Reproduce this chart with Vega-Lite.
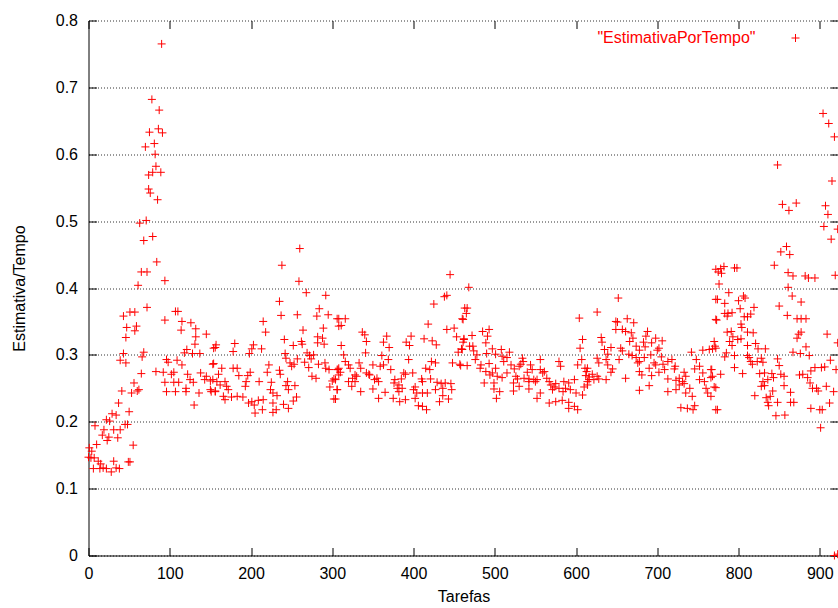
{
"$schema": "https://vega.github.io/schema/vega-lite/v6.json",
"width": 750, "height": 535,
"autosize": {"type": "none"},
"padding": {"left": 88.5, "top": 20.5, "right": 0, "bottom": 52.5},
"background": "white",
"config": {
 "view": {"stroke": null},
 "axis": {"labelFont": "Liberation Sans", "labelFontSize": 16, "labelColor": "#000", "titleFont": "Liberation Sans", "titleFontSize": 16, "titleFontWeight": "normal", "titleColor": "#000", "domainColor": "#000", "tickColor": "#000", "tickSize": -8, "labelFlush": false, "labelOverlap": false, "domainWidth": 1, "tickWidth": 1}
},
"data": {"values": [
{"x":90,"y":0.765},{"x":78,"y":0.682},{"x":87,"y":0.666},{"x":75,"y":0.633},{"x":86,"y":0.638},{"x":91,"y":0.632},{"x":70,"y":0.611},{"x":81,"y":0.616},{"x":82,"y":0.600},{"x":83,"y":0.582},{"x":74,"y":0.569},{"x":79,"y":0.573},{"x":89,"y":0.573},{"x":74,"y":0.548},{"x":76,"y":0.542},{"x":85,"y":0.532},{"x":63,"y":0.497},{"x":71,"y":0.501},{"x":79,"y":0.477},{"x":68,"y":0.471},{"x":84,"y":0.439},{"x":65,"y":0.424},{"x":72,"y":0.424},{"x":61,"y":0.404},{"x":94,"y":0.411},{"x":72,"y":0.371},{"x":43,"y":0.358},{"x":51,"y":0.364},{"x":57,"y":0.364},{"x":107,"y":0.365},{"x":110,"y":0.365},{"x":94,"y":0.352},{"x":115,"y":0.35},{"x":126,"y":0.348},{"x":47,"y":0.341},{"x":59,"y":0.343},{"x":57,"y":0.336},{"x":114,"y":0.337},{"x":132,"y":0.339},{"x":145,"y":0.331},{"x":46,"y":0.326},{"x":132,"y":0.327},{"x":131,"y":0.316},{"x":156,"y":0.311},{"x":121,"y":0.308},{"x":68,"y":0.304},{"x":43,"y":0.302},{"x":66,"y":0.297},{"x":118,"y":0.303},{"x":128,"y":0.302},{"x":137,"y":0.302},{"x":39,"y":0.292},{"x":46,"y":0.288},{"x":96,"y":0.293},{"x":98,"y":0.289},{"x":109,"y":0.292},{"x":115,"y":0.285},{"x":154,"y":0.287},{"x":65,"y":0.272},{"x":83,"y":0.275},{"x":92,"y":0.274},{"x":102,"y":0.271},{"x":105,"y":0.274},{"x":122,"y":0.271},{"x":138,"y":0.273},{"x":145,"y":0.268},{"x":94,"y":0.259},{"x":105,"y":0.259},{"x":111,"y":0.259},{"x":125,"y":0.263},{"x":129,"y":0.259},{"x":143,"y":0.263},{"x":150,"y":0.261},{"x":56,"y":0.258},{"x":41,"y":0.246},{"x":53,"y":0.243},{"x":60,"y":0.246},{"x":62,"y":0.248},{"x":96,"y":0.245},{"x":107,"y":0.245},{"x":120,"y":0.25},{"x":136,"y":0.243},{"x":151,"y":0.245},{"x":156,"y":0.246},{"x":120,"y":0.245},{"x":130,"y":0.225},{"x":37,"y":0.228},{"x":50,"y":0.215},{"x":29,"y":0.212},{"x":34,"y":0.21},{"x":22,"y":0.203},{"x":26,"y":0.201},{"x":45,"y":0.196},{"x":48,"y":0.196},{"x":8,"y":0.194},{"x":19,"y":0.188},{"x":31,"y":0.188},{"x":39,"y":0.188},{"x":17,"y":0.18},{"x":25,"y":0.177},{"x":36,"y":0.176},{"x":23,"y":0.172},{"x":10,"y":0.166},{"x":55,"y":0.165},{"x":1,"y":0.161},{"x":4,"y":0.156},{"x":0,"y":0.147},{"x":3,"y":0.146},{"x":7,"y":0.146},{"x":12,"y":0.141},{"x":15,"y":0.137},{"x":14,"y":0.13},{"x":6,"y":0.13},{"x":18,"y":0.131},{"x":22,"y":0.13},{"x":28,"y":0.125},{"x":31,"y":0.141},{"x":34,"y":0.131},{"x":38,"y":0.13},{"x":49,"y":0.14},{"x":51,"y":0.14},
{"x":260,"y":0.459},{"x":238,"y":0.434},{"x":259,"y":0.41},{"x":268,"y":0.393},{"x":292,"y":0.389},{"x":235,"y":0.38},{"x":284,"y":0.369},{"x":237,"y":0.359},{"x":257,"y":0.36},{"x":281,"y":0.358},{"x":295,"y":0.36},{"x":306,"y":0.354},{"x":308,"y":0.343},{"x":215,"y":0.35},{"x":218,"y":0.334},{"x":264,"y":0.337},{"x":289,"y":0.34},{"x":241,"y":0.323},{"x":262,"y":0.32},{"x":282,"y":0.327},{"x":288,"y":0.325},{"x":263,"y":0.316},{"x":252,"y":0.314},{"x":282,"y":0.318},{"x":290,"y":0.316},{"x":157,"y":0.315},{"x":154,"y":0.31},{"x":180,"y":0.317},{"x":203,"y":0.315},{"x":201,"y":0.309},{"x":213,"y":0.309},{"x":178,"y":0.305},{"x":198,"y":0.302},{"x":242,"y":0.302},{"x":269,"y":0.303},{"x":272,"y":0.299},{"x":277,"y":0.3},{"x":243,"y":0.295},{"x":257,"y":0.294},{"x":274,"y":0.294},{"x":248,"y":0.288},{"x":253,"y":0.286},{"x":266,"y":0.289},{"x":283,"y":0.286},{"x":291,"y":0.288},{"x":153,"y":0.286},{"x":222,"y":0.285},{"x":250,"y":0.283},{"x":271,"y":0.281},{"x":164,"y":0.28},{"x":178,"y":0.28},{"x":183,"y":0.28},{"x":160,"y":0.271},{"x":199,"y":0.274},{"x":220,"y":0.274},{"x":235,"y":0.277},{"x":292,"y":0.28},{"x":296,"y":0.278},{"x":307,"y":0.278},{"x":196,"y":0.269},{"x":185,"y":0.269},{"x":236,"y":0.271},{"x":275,"y":0.268},{"x":280,"y":0.265},{"x":308,"y":0.27},{"x":153,"y":0.263},{"x":158,"y":0.26},{"x":168,"y":0.26},{"x":194,"y":0.26},{"x":210,"y":0.26},{"x":225,"y":0.259},{"x":245,"y":0.26},{"x":302,"y":0.264},{"x":300,"y":0.261},{"x":162,"y":0.255},{"x":170,"y":0.253},{"x":193,"y":0.253},{"x":243,"y":0.254},{"x":254,"y":0.254},{"x":150,"y":0.248},{"x":156,"y":0.245},{"x":172,"y":0.248},{"x":224,"y":0.248},{"x":227,"y":0.243},{"x":232,"y":0.239},{"x":246,"y":0.248},{"x":297,"y":0.252},{"x":306,"y":0.248},{"x":166,"y":0.238},{"x":176,"y":0.237},{"x":183,"y":0.238},{"x":190,"y":0.237},{"x":168,"y":0.233},{"x":201,"y":0.23},{"x":209,"y":0.232},{"x":215,"y":0.233},{"x":204,"y":0.225},{"x":256,"y":0.237},{"x":252,"y":0.231},{"x":302,"y":0.234},{"x":240,"y":0.226},{"x":246,"y":0.22},{"x":227,"y":0.228},{"x":214,"y":0.218},{"x":205,"y":0.213},{"x":227,"y":0.214},{"x":231,"y":0.218},{"x":197,"y":0.228},
{"x":445,"y":0.42},{"x":441,"y":0.389},{"x":438,"y":0.387},{"x":425,"y":0.376},{"x":463,"y":0.37},{"x":460,"y":0.354},{"x":308,"y":0.354},{"x":316,"y":0.354},{"x":311,"y":0.344},{"x":418,"y":0.346},{"x":450,"y":0.34},{"x":441,"y":0.338},{"x":337,"y":0.334},{"x":340,"y":0.33},{"x":367,"y":0.328},{"x":397,"y":0.328},{"x":413,"y":0.324},{"x":453,"y":0.327},{"x":462,"y":0.324},{"x":342,"y":0.32},{"x":363,"y":0.319},{"x":391,"y":0.319},{"x":395,"y":0.314},{"x":423,"y":0.321},{"x":428,"y":0.315},{"x":311,"y":0.314},{"x":370,"y":0.311},{"x":459,"y":0.309},{"x":461,"y":0.319},{"x":455,"y":0.304},{"x":341,"y":0.303},{"x":314,"y":0.3},{"x":361,"y":0.299},{"x":369,"y":0.293},{"x":394,"y":0.293},{"x":422,"y":0.29},{"x":427,"y":0.288},{"x":448,"y":0.288},{"x":457,"y":0.286},{"x":316,"y":0.29},{"x":308,"y":0.28},{"x":320,"y":0.285},{"x":333,"y":0.288},{"x":350,"y":0.285},{"x":363,"y":0.285},{"x":359,"y":0.283},{"x":415,"y":0.28},{"x":420,"y":0.278},{"x":322,"y":0.28},{"x":335,"y":0.28},{"x":372,"y":0.278},{"x":306,"y":0.278},{"x":310,"y":0.274},{"x":328,"y":0.27},{"x":342,"y":0.273},{"x":346,"y":0.27},{"x":355,"y":0.265},{"x":388,"y":0.273},{"x":399,"y":0.273},{"x":325,"y":0.265},{"x":330,"y":0.268},{"x":345,"y":0.271},{"x":352,"y":0.263},{"x":357,"y":0.26},{"x":377,"y":0.263},{"x":385,"y":0.264},{"x":390,"y":0.271},{"x":410,"y":0.264},{"x":421,"y":0.264},{"x":429,"y":0.259},{"x":434,"y":0.257},{"x":439,"y":0.258},{"x":446,"y":0.257},{"x":304,"y":0.263},{"x":320,"y":0.26},{"x":328,"y":0.26},{"x":376,"y":0.258},{"x":382,"y":0.255},{"x":411,"y":0.26},{"x":306,"y":0.248},{"x":324,"y":0.253},{"x":350,"y":0.249},{"x":380,"y":0.25},{"x":386,"y":0.25},{"x":400,"y":0.248},{"x":402,"y":0.252},{"x":427,"y":0.248},{"x":436,"y":0.25},{"x":447,"y":0.248},{"x":335,"y":0.245},{"x":365,"y":0.244},{"x":382,"y":0.245},{"x":404,"y":0.243},{"x":411,"y":0.243},{"x":417,"y":0.243},{"x":357,"y":0.235},{"x":375,"y":0.235},{"x":390,"y":0.233},{"x":402,"y":0.235},{"x":436,"y":0.239},{"x":443,"y":0.234},{"x":383,"y":0.23},{"x":432,"y":0.23},{"x":406,"y":0.224},{"x":411,"y":0.223},{"x":416,"y":0.218},{"x":304,"y":0.234},
{"x":468,"y":0.401},{"x":466,"y":0.37},{"x":465,"y":0.362},{"x":461,"y":0.353},{"x":485,"y":0.335},{"x":493,"y":0.338},{"x":491,"y":0.328},{"x":472,"y":0.329},{"x":462,"y":0.323},{"x":489,"y":0.318},{"x":469,"y":0.313},{"x":473,"y":0.313},{"x":497,"y":0.309},{"x":460,"y":0.308},{"x":474,"y":0.306},{"x":508,"y":0.308},{"x":518,"y":0.304},{"x":490,"y":0.302},{"x":501,"y":0.301},{"x":478,"y":0.3},{"x":509,"y":0.298},{"x":515,"y":0.296},{"x":534,"y":0.295},{"x":535,"y":0.29},{"x":556,"y":0.293},{"x":579,"y":0.29},{"x":604,"y":0.355},{"x":608,"y":0.323},{"x":605,"y":0.31},{"x":607,"y":0.293},{"x":602,"y":0.285},{"x":476,"y":0.293},{"x":511,"y":0.29},{"x":532,"y":0.286},{"x":483,"y":0.285},{"x":493,"y":0.287},{"x":520,"y":0.285},{"x":544,"y":0.285},{"x":458,"y":0.284},{"x":466,"y":0.284},{"x":482,"y":0.28},{"x":501,"y":0.28},{"x":524,"y":0.279},{"x":530,"y":0.283},{"x":546,"y":0.278},{"x":556,"y":0.278},{"x":561,"y":0.275},{"x":581,"y":0.283},{"x":611,"y":0.28},{"x":613,"y":0.275},{"x":489,"y":0.275},{"x":497,"y":0.273},{"x":515,"y":0.273},{"x":540,"y":0.274},{"x":559,"y":0.273},{"x":494,"y":0.27},{"x":503,"y":0.268},{"x":509,"y":0.266},{"x":526,"y":0.268},{"x":528,"y":0.264},{"x":536,"y":0.265},{"x":542,"y":0.264},{"x":548,"y":0.263},{"x":552,"y":0.263},{"x":564,"y":0.265},{"x":567,"y":0.26},{"x":598,"y":0.263},{"x":616,"y":0.263},{"x":499,"y":0.258},{"x":523,"y":0.258},{"x":542,"y":0.26},{"x":550,"y":0.26},{"x":569,"y":0.255},{"x":575,"y":0.257},{"x":585,"y":0.26},{"x":591,"y":0.258},{"x":614,"y":0.255},{"x":487,"y":0.258},{"x":530,"y":0.253},{"x":573,"y":0.252},{"x":579,"y":0.25},{"x":587,"y":0.25},{"x":593,"y":0.248},{"x":610,"y":0.252},{"x":542,"y":0.249},{"x":523,"y":0.246},{"x":499,"y":0.249},{"x":506,"y":0.245},{"x":556,"y":0.243},{"x":571,"y":0.248},{"x":600,"y":0.243},{"x":608,"y":0.24},{"x":584,"y":0.245},{"x":552,"y":0.235},{"x":502,"y":0.235},{"x":567,"y":0.228},{"x":575,"y":0.23},{"x":583,"y":0.232},{"x":591,"y":0.229},{"x":591,"y":0.22},{"x":602,"y":0.218},{"x":598,"y":0.223},
{"x":652,"y":0.385},{"x":626,"y":0.364},{"x":649,"y":0.35},{"x":663,"y":0.354},{"x":671,"y":0.348},{"x":651,"y":0.349},{"x":649,"y":0.338},{"x":657,"y":0.338},{"x":661,"y":0.335},{"x":668,"y":0.333},{"x":688,"y":0.335},{"x":686,"y":0.328},{"x":631,"y":0.326},{"x":632,"y":0.319},{"x":670,"y":0.325},{"x":666,"y":0.32},{"x":698,"y":0.325},{"x":706,"y":0.321},{"x":693,"y":0.318},{"x":683,"y":0.319},{"x":643,"y":0.311},{"x":655,"y":0.31},{"x":674,"y":0.313},{"x":685,"y":0.312},{"x":702,"y":0.31},{"x":635,"y":0.308},{"x":657,"y":0.306},{"x":678,"y":0.307},{"x":700,"y":0.307},{"x":742,"y":0.304},{"x":756,"y":0.307},{"x":764,"y":0.308},{"x":772,"y":0.31},{"x":770,"y":0.32},{"x":639,"y":0.301},{"x":665,"y":0.301},{"x":692,"y":0.3},{"x":669,"y":0.299},{"x":674,"y":0.296},{"x":684,"y":0.296},{"x":705,"y":0.297},{"x":626,"y":0.295},{"x":637,"y":0.293},{"x":653,"y":0.293},{"x":718,"y":0.293},{"x":713,"y":0.29},{"x":678,"y":0.29},{"x":748,"y":0.293},{"x":628,"y":0.288},{"x":639,"y":0.285},{"x":676,"y":0.288},{"x":696,"y":0.288},{"x":698,"y":0.285},{"x":707,"y":0.286},{"x":722,"y":0.283},{"x":746,"y":0.279},{"x":752,"y":0.283},{"x":766,"y":0.278},{"x":614,"y":0.28},{"x":645,"y":0.279},{"x":690,"y":0.28},{"x":709,"y":0.278},{"x":721,"y":0.279},{"x":643,"y":0.274},{"x":678,"y":0.275},{"x":702,"y":0.274},{"x":733,"y":0.274},{"x":756,"y":0.273},{"x":620,"y":0.271},{"x":681,"y":0.27},{"x":693,"y":0.269},{"x":713,"y":0.264},{"x":727,"y":0.265},{"x":735,"y":0.268},{"x":752,"y":0.263},{"x":768,"y":0.268},{"x":612,"y":0.269},{"x":616,"y":0.267},{"x":626,"y":0.268},{"x":661,"y":0.265},{"x":637,"y":0.263},{"x":723,"y":0.262},{"x":731,"y":0.26},{"x":758,"y":0.26},{"x":770,"y":0.252},{"x":614,"y":0.26},{"x":622,"y":0.263},{"x":628,"y":0.264},{"x":727,"y":0.255},{"x":733,"y":0.257},{"x":690,"y":0.254},{"x":713,"y":0.245},{"x":678,"y":0.247},{"x":723,"y":0.248},{"x":740,"y":0.25},{"x":760,"y":0.25},{"x":762,"y":0.243},{"x":735,"y":0.243},{"x":743,"y":0.238},{"x":766,"y":0.238},{"x":729,"y":0.221},{"x":737,"y":0.22},{"x":744,"y":0.218},{"x":746,"y":0.224},{"x":772,"y":0.218},{"x":772,"y":0.383},{"x":772,"y":0.353},{"x":772,"y":0.428},
{"x":904,"y":0.661},{"x":911,"y":0.646},{"x":918,"y":0.626},{"x":848,"y":0.584},{"x":915,"y":0.56},{"x":854,"y":0.525},{"x":871,"y":0.527},{"x":907,"y":0.523},{"x":862,"y":0.516},{"x":910,"y":0.51},{"x":905,"y":0.492},{"x":922,"y":0.488},{"x":914,"y":0.473},{"x":859,"y":0.462},{"x":852,"y":0.454},{"x":863,"y":0.45},{"x":844,"y":0.434},{"x":778,"y":0.429},{"x":782,"y":0.432},{"x":775,"y":0.424},{"x":779,"y":0.422},{"x":795,"y":0.43},{"x":798,"y":0.43},{"x":861,"y":0.423},{"x":867,"y":0.418},{"x":882,"y":0.418},{"x":886,"y":0.415},{"x":894,"y":0.415},{"x":919,"y":0.419},{"x":776,"y":0.406},{"x":861,"y":0.401},{"x":788,"y":0.393},{"x":866,"y":0.388},{"x":774,"y":0.383},{"x":806,"y":0.388},{"x":808,"y":0.385},{"x":800,"y":0.381},{"x":783,"y":0.377},{"x":877,"y":0.379},{"x":819,"y":0.371},{"x":850,"y":0.373},{"x":802,"y":0.369},{"x":783,"y":0.362},{"x":787,"y":0.362},{"x":792,"y":0.363},{"x":786,"y":0.358},{"x":815,"y":0.361},{"x":811,"y":0.357},{"x":807,"y":0.357},{"x":860,"y":0.359},{"x":872,"y":0.354},{"x":877,"y":0.354},{"x":883,"y":0.354},{"x":773,"y":0.352},{"x":803,"y":0.346},{"x":804,"y":0.341},{"x":786,"y":0.334},{"x":791,"y":0.335},{"x":793,"y":0.327},{"x":811,"y":0.334},{"x":818,"y":0.333},{"x":874,"y":0.331},{"x":877,"y":0.334},{"x":872,"y":0.325},{"x":909,"y":0.331},{"x":922,"y":0.318},{"x":803,"y":0.324},{"x":789,"y":0.32},{"x":792,"y":0.314},{"x":799,"y":0.323},{"x":811,"y":0.314},{"x":821,"y":0.317},{"x":824,"y":0.309},{"x":833,"y":0.309},{"x":883,"y":0.312},{"x":768,"y":0.309},{"x":771,"y":0.313},{"x":785,"y":0.303},{"x":783,"y":0.297},{"x":795,"y":0.299},{"x":811,"y":0.299},{"x":813,"y":0.296},{"x":867,"y":0.304},{"x":876,"y":0.302},{"x":887,"y":0.299},{"x":815,"y":0.29},{"x":823,"y":0.29},{"x":828,"y":0.295},{"x":830,"y":0.289},{"x":817,"y":0.286},{"x":795,"y":0.281},{"x":850,"y":0.284},{"x":848,"y":0.294},{"x":913,"y":0.292},{"x":902,"y":0.281},{"x":894,"y":0.281},{"x":906,"y":0.282},{"x":889,"y":0.276},{"x":920,"y":0.278},{"x":767,"y":0.278},{"x":805,"y":0.272},{"x":778,"y":0.271},{"x":826,"y":0.272},{"x":832,"y":0.273},{"x":841,"y":0.272},{"x":852,"y":0.271},{"x":875,"y":0.27},{"x":879,"y":0.271},{"x":766,"y":0.266},{"x":830,"y":0.26},{"x":836,"y":0.263},{"x":843,"y":0.266},{"x":856,"y":0.268},{"x":885,"y":0.266},{"x":888,"y":0.258},{"x":891,"y":0.25},{"x":896,"y":0.25},{"x":898,"y":0.246},{"x":908,"y":0.253},{"x":917,"y":0.245},{"x":832,"y":0.254},{"x":828,"y":0.253},{"x":772,"y":0.251},{"x":842,"y":0.246},{"x":864,"y":0.244},{"x":856,"y":0.254},{"x":839,"y":0.238},{"x":834,"y":0.236},{"x":836,"y":0.229},{"x":820,"y":0.239},{"x":837,"y":0.224},{"x":848,"y":0.229},{"x":864,"y":0.229},{"x":868,"y":0.229},{"x":912,"y":0.228},{"x":889,"y":0.22},{"x":900,"y":0.218},{"x":903,"y":0.218},{"x":774,"y":0.218},{"x":846,"y":0.209},{"x":857,"y":0.21},{"x":901,"y":0.191},{"x":918,"y":0.0},{"x":922,"y":0.002}
]},
"layer": [
 {
  "mark": {"type": "point", "shape": "M-1,0H1M0,-1V1", "filled": false, "strokeWidth": 1, "size": 64, "opacity": 1},
  "encoding": {
   "x": {"field": "x", "type": "quantitative", "scale": {"domain": [0, 923], "nice": false, "zero": false},
         "axis": {"orient": "bottom", "values": [0,100,200,300,400,500,600,700,800,900], "format": "d", "labelPadding": 18, "grid": false, "title": "Tarefas", "titlePadding": 7}},
   "y": {"field": "y", "type": "quantitative", "scale": {"domain": [0, 0.8], "nice": false},
         "axis": {"orient": "left", "values": [0,0.1,0.2,0.3,0.4,0.5,0.6,0.7,0.8], "format": "~g", "labelPadding": 19, "grid": true, "gridColor": "#333", "gridDash": [1,2], "gridWidth": 1, "title": "Estimativa/Tempo", "titlePadding": 28}},
   "color": {"datum": "\"EstimativaPorTempo\"", "scale": {"range": ["#ff0000"]},
         "legend": {"orient": "none", "legendX": 699, "legendY": 9.5, "title": null, "padding": 0, "labelAlign": "right", "labelOffset": -48, "labelColor": "#ff0000", "labelFont": "Liberation Sans", "labelFontSize": 16, "labelLimit": 400, "symbolType": "M-1,0H1M0,-1V1", "symbolSize": 64, "symbolStrokeColor": "#ff0000", "symbolFillColor": "transparent", "symbolStrokeWidth": 1}}
  }
 },
 {
  "mark": {"type": "point", "opacity": 0},
  "encoding": {
   "x": {"field": "x", "type": "quantitative", "scale": {"domain": [0, 923], "nice": false, "zero": false},
         "axis": {"orient": "top", "values": [0,100,200,300,400,500,600,700,800,900], "labels": false, "domain": false, "grid": false, "title": null}},
   "y": {"field": "y", "type": "quantitative", "scale": {"domain": [0, 0.8], "nice": false},
         "axis": {"orient": "right", "values": [0,0.1,0.2,0.3,0.4,0.5,0.6,0.7,0.8], "labels": false, "domain": false, "grid": false, "title": null}}
  }
 }
],
"resolve": {"axis": {"x": "independent", "y": "independent"}}
}
